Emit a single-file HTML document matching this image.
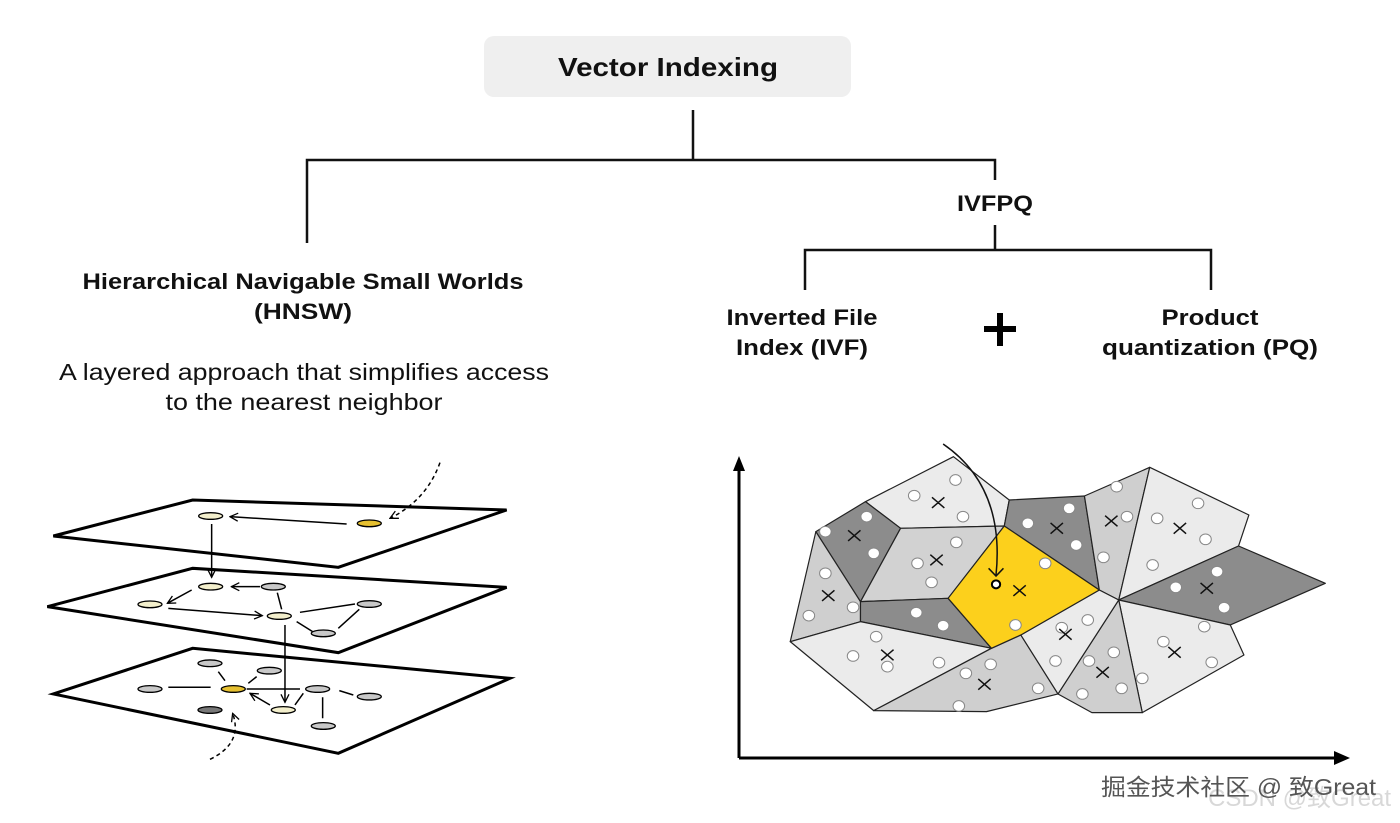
<!DOCTYPE html>
<html><head><meta charset="utf-8"><style>
html,body{margin:0;padding:0;background:#fff;}
svg{display:block;}
text{font-family:"Liberation Sans","Noto Sans CJK SC",sans-serif;fill:#111;}
</style></head><body>
<svg width="1400" height="823" viewBox="0 0 1400 823" xmlns="http://www.w3.org/2000/svg">
<defs>
<marker id="ah" viewBox="0 0 10 10" refX="9" refY="5" markerWidth="30" markerHeight="30" orient="auto" markerUnits="userSpaceOnUse"><path d="M1,1 L9,5 L1,9" fill="none" stroke="#000" stroke-width="1.3"/></marker>
</defs>
<!-- header -->
<rect x="484" y="36" width="367" height="61" rx="10" fill="#efefef"/>
<text x="668" y="76" text-anchor="middle" font-size="26" font-weight="bold" textLength="220" lengthAdjust="spacingAndGlyphs">Vector Indexing</text>
<g stroke="#111" stroke-width="2.5" fill="none">
<path d="M693,110 V160 M307,243 V160 H995 V180 M995,225 V250 M805,290 V250 H1211 V290"/>
</g>
<text x="995" y="211" text-anchor="middle" font-size="22" font-weight="bold" textLength="76" lengthAdjust="spacingAndGlyphs">IVFPQ</text>
<text x="303" y="289" text-anchor="middle" font-size="22" font-weight="bold" textLength="441" lengthAdjust="spacingAndGlyphs">Hierarchical Navigable Small Worlds</text>
<text x="303" y="319" text-anchor="middle" font-size="22" font-weight="bold" textLength="98" lengthAdjust="spacingAndGlyphs">(HNSW)</text>
<text x="304" y="380" text-anchor="middle" font-size="23" textLength="490" lengthAdjust="spacingAndGlyphs">A layered approach that simplifies access</text>
<text x="304" y="410" text-anchor="middle" font-size="23" textLength="277" lengthAdjust="spacingAndGlyphs">to the nearest neighbor</text>
<text x="802" y="325" text-anchor="middle" font-size="22" font-weight="bold" textLength="151" lengthAdjust="spacingAndGlyphs">Inverted File</text>
<text x="802" y="355" text-anchor="middle" font-size="22" font-weight="bold" textLength="132" lengthAdjust="spacingAndGlyphs">Index (IVF)</text>
<text x="1210" y="325" text-anchor="middle" font-size="22" font-weight="bold" textLength="97" lengthAdjust="spacingAndGlyphs">Product</text>
<text x="1210" y="355" text-anchor="middle" font-size="22" font-weight="bold" textLength="216" lengthAdjust="spacingAndGlyphs">quantization (PQ)</text>
<path d="M1000,313 V346 M984,329 H1016" stroke="#000" stroke-width="6"/>

<!-- HNSW drawing -->
<g transform="translate(40,450) scale(0.3333)">
<g fill="#fff" stroke="#000" stroke-width="9" stroke-linejoin="miter">
<path d="M40,732 L458,595 L1410,685 L895,910 Z"/>
<path d="M22,470 L458,355 L1400,412 L895,608 Z"/>
<path d="M40,258 L458,150 L1400,180 L895,352 Z"/>
</g>
<g stroke="#000" stroke-width="4.5" fill="none">
<path d="M920,222 L570,200" marker-end="url(#ah)"/>
<path d="M515,222 L515,382" marker-end="url(#ah)"/>
<path d="M1200,38 Q1160,150 1050,205" stroke-dasharray="12,10" marker-end="url(#ah)"/>
<path d="M660,410 L574,410" marker-end="url(#ah)"/>
<path d="M455,420 L382,460" marker-end="url(#ah)"/>
<path d="M385,475 L667,497" marker-end="url(#ah)"/>
<path d="M712,428 L725,478 M780,487 L945,462 M770,515 L818,545 M895,535 L958,478"/>
<path d="M735,525 L735,757" marker-end="url(#ah)"/>
<path d="M385,712 L512,712 M535,665 L555,692 M625,700 L650,680 M620,717 L780,717 M898,722 L940,735 M848,742 L848,805 M790,730 L765,765"/>
<path d="M690,765 L630,730" marker-end="url(#ah)"/>
<path d="M510,928 Q610,880 578,790" stroke-dasharray="12,10" marker-end="url(#ah)"/>
</g>
<g stroke="#000" stroke-width="4">
<ellipse cx="512" cy="198" rx="36" ry="10" fill="#f3efcc"/>
<ellipse cx="988" cy="220" rx="36" ry="10" fill="#e6c030"/>
<ellipse cx="512" cy="410" rx="36" ry="10" fill="#f3efcc"/>
<ellipse cx="700" cy="410" rx="36" ry="10" fill="#c8c8c8"/>
<ellipse cx="330" cy="463" rx="36" ry="10" fill="#f3efcc"/>
<ellipse cx="718" cy="498" rx="36" ry="10" fill="#f3efcc"/>
<ellipse cx="988" cy="462" rx="36" ry="10" fill="#c8c8c8"/>
<ellipse cx="850" cy="550" rx="36" ry="10" fill="#c8c8c8"/>
<ellipse cx="510" cy="640" rx="36" ry="10" fill="#c8c8c8"/>
<ellipse cx="688" cy="662" rx="36" ry="10" fill="#c8c8c8"/>
<ellipse cx="330" cy="717" rx="36" ry="10" fill="#c8c8c8"/>
<ellipse cx="580" cy="717" rx="36" ry="10" fill="#e6c030"/>
<ellipse cx="833" cy="717" rx="36" ry="10" fill="#c8c8c8"/>
<ellipse cx="988" cy="740" rx="36" ry="10" fill="#c8c8c8"/>
<ellipse cx="510" cy="780" rx="36" ry="10" fill="#777"/>
<ellipse cx="730" cy="780" rx="36" ry="10" fill="#f3efcc"/>
<ellipse cx="850" cy="828" rx="36" ry="10" fill="#c8c8c8"/>
</g>
</g>

<!-- IVF drawing -->
<g transform="translate(720,440) scale(0.4132,0.3333)">
<g stroke="#222" stroke-width="1.2" stroke-linejoin="round">
<path vector-effect="non-scaling-stroke" fill="#ebebeb" d="M352,185 L565,50 L700,180 L688,258 L437,265 Z"/>
<path vector-effect="non-scaling-stroke" fill="#8c8c8c" d="M232,275 L352,185 L437,265 L340,485 Z"/>
<path vector-effect="non-scaling-stroke" fill="#cfcfcf" d="M232,275 L340,485 L340,545 L170,605 Z"/>
<path vector-effect="non-scaling-stroke" fill="#d2d2d2" d="M437,265 L688,258 L552,475 L340,485 Z"/>
<path vector-effect="non-scaling-stroke" fill="#8c8c8c" d="M340,485 L552,475 L657,625 L340,545 Z"/>
<path vector-effect="non-scaling-stroke" fill="#ebebeb" d="M170,605 L340,545 L657,625 L372,812 Z"/>
<path vector-effect="non-scaling-stroke" fill="#cfcfcf" d="M372,812 L657,625 L728,585 L818,762 L645,815 Z"/>
<path vector-effect="non-scaling-stroke" fill="#8c8c8c" d="M700,180 L882,168 L918,450 L688,258 Z"/>
<path vector-effect="non-scaling-stroke" fill="#cfcfcf" d="M882,168 L1040,82 L965,480 L918,450 Z"/>
<path vector-effect="non-scaling-stroke" fill="#ebebeb" d="M1040,82 L1280,225 L1255,318 L965,480 Z"/>
<path vector-effect="non-scaling-stroke" fill="#8c8c8c" d="M965,480 L1255,318 L1465,430 L1235,555 Z"/>
<path vector-effect="non-scaling-stroke" fill="#ebebeb" d="M965,480 L1235,555 L1268,645 L1022,818 Z"/>
<path vector-effect="non-scaling-stroke" fill="#cfcfcf" d="M965,480 L1022,818 L900,818 L818,762 Z"/>
<path vector-effect="non-scaling-stroke" fill="#ebebeb" d="M918,450 L965,480 L818,762 L728,585 Z"/>
<path vector-effect="non-scaling-stroke" fill="#fcd01c" d="M552,475 L688,258 L918,450 L728,585 L657,625 Z"/>
</g>
<g fill="#fff" stroke="#888" stroke-width="1">
<ellipse vector-effect="non-scaling-stroke" cx="570" cy="120" rx="14" ry="16"/><ellipse vector-effect="non-scaling-stroke" cx="470" cy="167" rx="14" ry="16"/><ellipse vector-effect="non-scaling-stroke" cx="588" cy="230" rx="14" ry="16"/><ellipse vector-effect="non-scaling-stroke" cx="355" cy="230" rx="14" ry="16"/><ellipse vector-effect="non-scaling-stroke" cx="255" cy="275" rx="14" ry="16"/><ellipse vector-effect="non-scaling-stroke" cx="372" cy="340" rx="14" ry="16"/><ellipse vector-effect="non-scaling-stroke" cx="572" cy="307" rx="14" ry="16"/><ellipse vector-effect="non-scaling-stroke" cx="478" cy="370" rx="14" ry="16"/><ellipse vector-effect="non-scaling-stroke" cx="512" cy="427" rx="14" ry="16"/><ellipse vector-effect="non-scaling-stroke" cx="255" cy="400" rx="14" ry="16"/><ellipse vector-effect="non-scaling-stroke" cx="322" cy="502" rx="14" ry="16"/><ellipse vector-effect="non-scaling-stroke" cx="215" cy="527" rx="14" ry="16"/><ellipse vector-effect="non-scaling-stroke" cx="475" cy="518" rx="14" ry="16"/><ellipse vector-effect="non-scaling-stroke" cx="540" cy="557" rx="14" ry="16"/><ellipse vector-effect="non-scaling-stroke" cx="787" cy="370" rx="14" ry="16"/><ellipse vector-effect="non-scaling-stroke" cx="745" cy="250" rx="14" ry="16"/><ellipse vector-effect="non-scaling-stroke" cx="845" cy="205" rx="14" ry="16"/><ellipse vector-effect="non-scaling-stroke" cx="862" cy="315" rx="14" ry="16"/><ellipse vector-effect="non-scaling-stroke" cx="960" cy="140" rx="14" ry="16"/><ellipse vector-effect="non-scaling-stroke" cx="985" cy="230" rx="14" ry="16"/><ellipse vector-effect="non-scaling-stroke" cx="928" cy="352" rx="14" ry="16"/><ellipse vector-effect="non-scaling-stroke" cx="1058" cy="235" rx="14" ry="16"/><ellipse vector-effect="non-scaling-stroke" cx="1157" cy="190" rx="14" ry="16"/><ellipse vector-effect="non-scaling-stroke" cx="1175" cy="298" rx="14" ry="16"/><ellipse vector-effect="non-scaling-stroke" cx="1047" cy="375" rx="14" ry="16"/><ellipse vector-effect="non-scaling-stroke" cx="1203" cy="395" rx="14" ry="16"/><ellipse vector-effect="non-scaling-stroke" cx="1103" cy="442" rx="14" ry="16"/><ellipse vector-effect="non-scaling-stroke" cx="1220" cy="503" rx="14" ry="16"/><ellipse vector-effect="non-scaling-stroke" cx="890" cy="540" rx="14" ry="16"/><ellipse vector-effect="non-scaling-stroke" cx="827" cy="563" rx="14" ry="16"/><ellipse vector-effect="non-scaling-stroke" cx="715" cy="555" rx="14" ry="16"/><ellipse vector-effect="non-scaling-stroke" cx="1172" cy="560" rx="14" ry="16"/><ellipse vector-effect="non-scaling-stroke" cx="1073" cy="605" rx="14" ry="16"/><ellipse vector-effect="non-scaling-stroke" cx="1190" cy="667" rx="14" ry="16"/><ellipse vector-effect="non-scaling-stroke" cx="1022" cy="715" rx="14" ry="16"/><ellipse vector-effect="non-scaling-stroke" cx="953" cy="637" rx="14" ry="16"/><ellipse vector-effect="non-scaling-stroke" cx="893" cy="663" rx="14" ry="16"/><ellipse vector-effect="non-scaling-stroke" cx="812" cy="663" rx="14" ry="16"/><ellipse vector-effect="non-scaling-stroke" cx="877" cy="762" rx="14" ry="16"/><ellipse vector-effect="non-scaling-stroke" cx="972" cy="745" rx="14" ry="16"/><ellipse vector-effect="non-scaling-stroke" cx="770" cy="745" rx="14" ry="16"/><ellipse vector-effect="non-scaling-stroke" cx="655" cy="673" rx="14" ry="16"/><ellipse vector-effect="non-scaling-stroke" cx="595" cy="700" rx="14" ry="16"/><ellipse vector-effect="non-scaling-stroke" cx="578" cy="798" rx="14" ry="16"/><ellipse vector-effect="non-scaling-stroke" cx="530" cy="668" rx="14" ry="16"/><ellipse vector-effect="non-scaling-stroke" cx="378" cy="590" rx="14" ry="16"/><ellipse vector-effect="non-scaling-stroke" cx="322" cy="648" rx="14" ry="16"/><ellipse vector-effect="non-scaling-stroke" cx="405" cy="680" rx="14" ry="16"/>
</g>
<g stroke="#111" stroke-width="1.5" fill="none">
<path vector-effect="non-scaling-stroke" d="M513,172 l30,32 m0,-32 l-30,32 M310,271 l30,32 m0,-32 l-30,32 M509,344 l30,32 m0,-32 l-30,32 M247,451 l30,32 m0,-32 l-30,32 M710,436 l30,32 m0,-32 l-30,32 M800,249 l30,32 m0,-32 l-30,32 M932,227 l30,32 m0,-32 l-30,32 M1098,249 l30,32 m0,-32 l-30,32 M1163,429 l30,32 m0,-32 l-30,32 M821,567 l30,32 m0,-32 l-30,32 M390,629 l30,32 m0,-32 l-30,32 M625,717 l30,32 m0,-32 l-30,32 M911,681 l30,32 m0,-32 l-30,32 M1085,621 l30,32 m0,-32 l-30,32"/>
<path vector-effect="non-scaling-stroke" d="M540,12 Q690,140 668,405"/>
<path vector-effect="non-scaling-stroke" d="M650,385 L668,408 L686,385"/>
</g>
<ellipse vector-effect="non-scaling-stroke" cx="668" cy="433" rx="10" ry="12" fill="#fff" stroke="#000" stroke-width="2"/>
</g>
<!-- axes -->
<g stroke="#000" stroke-width="3" fill="none">
<path d="M739,758 V470 M739,758 H1338"/>
</g>
<path d="M739,456 L733,471 L745,471 Z" fill="#000"/>
<path d="M1350,758 L1334,751 L1334,765 Z" fill="#000"/>
<!-- watermark -->
<text x="1208" y="806" font-size="24" style="fill:#d8d8d8">CSDN @致Great</text>
<text x="1101" y="795" font-size="23" style="fill:#555" textLength="275" lengthAdjust="spacingAndGlyphs">掘金技术社区 @ 致Great</text>
</svg>
</body></html>
